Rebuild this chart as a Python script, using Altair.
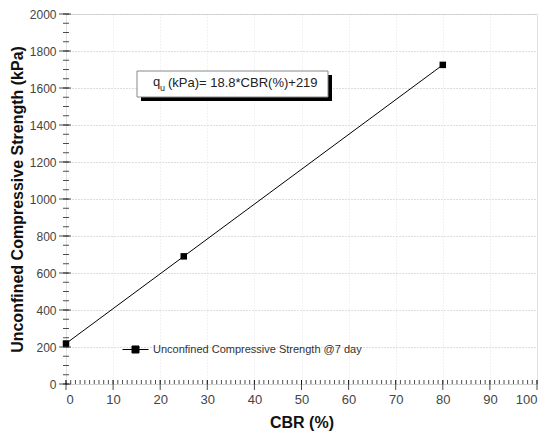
import altair as alt
import pandas as pd

# ---- data ----
cbr = [0, 25, 80]
ucs = [219, 690, 1725]
series_name = "Unconfined Compressive Strength @7 day"
x_major = list(range(0, 101, 10))
y_major = list(range(0, 2001, 200))
x_minor = list(range(0, 101, 1))
y_minor = list(range(0, 2001, 50))
eq_q = "q"
eq_sub = "u"
eq_rest = "(kPa)= 18.8*CBR(%)+219"

W, H = 471, 370
FONT = "Liberation Sans"

df = pd.DataFrame({"x": cbr, "y": ucs, "series": [series_name] * len(cbr)})
df_xminor = pd.DataFrame({"x": x_minor})
df_xmajor = pd.DataFrame({"x": x_major})
df_yminor = pd.DataFrame({"y": y_minor})
df_ymajor = pd.DataFrame({"y": y_major})
one = pd.DataFrame({"a": [0]})

x_enc = alt.X(
    "x:Q",
    scale=alt.Scale(domain=[0, 100], nice=False, zero=False),
    axis=alt.Axis(
        values=x_major, format="d", title="CBR (%)", domain=False, ticks=False,
        grid=True, gridColor="#e4e4e4", gridDash=[1, 2], gridWidth=1,
        labelFontSize=13, labelColor="#444", labelPadding=9, labelFont=FONT,
        titleFont=FONT, titleFontSize=16, titleFontWeight="bold", titleColor="#111",
        titlePadding=8,
    ),
)
y_enc = alt.Y(
    "y:Q",
    scale=alt.Scale(domain=[0, 2000], nice=False, zero=False),
    axis=alt.Axis(
        values=y_major, format="d", title="Unconfined Compressive Strength (kPa)",
        domain=False, ticks=False,
        grid=True, gridColor="#bdbdbd", gridDash=[1, 2], gridWidth=1,
        labelFontSize=12, labelColor="#444", labelPadding=10, labelFont=FONT,
        titleFont=FONT, titleFontSize=16, titleFontWeight="bold", titleColor="#111",
        titlePadding=4,
    ),
)

line = alt.Chart(df).mark_line(color="black", strokeWidth=1).encode(x=x_enc, y=y_enc)

legend_path = "M-1,0H1M-0.27,-0.27H0.27V0.27H-0.27Z"
points = alt.Chart(df).mark_square(size=42, opacity=1, filled=True).encode(
    x=x_enc, y=y_enc,
    color=alt.Color(
        "series:N",
        scale=alt.Scale(domain=[series_name], range=["black"]),
        legend=alt.Legend(
            title=None, orient="none", legendX=56, legendY=322, padding=0,
            symbolType=legend_path, symbolSize=676, symbolFillColor="black",
            symbolStrokeColor="black", symbolStrokeWidth=1, symbolOpacity=1,
            labelFont=FONT, labelFontSize=11, labelColor="#333", labelOffset=4,
            labelLimit=400,
        ),
    ),
)

y_minor_ticks = alt.Chart(df_yminor).mark_tick(
    orient="horizontal", size=6, thickness=1, color="black"
).encode(y=y_enc, x=alt.value(0))
y_major_ticks = alt.Chart(df_ymajor).mark_tick(
    orient="horizontal", size=12, thickness=1, color="black", xOffset=-1
).encode(y=y_enc, x=alt.value(0))
x_minor_ticks = alt.Chart(df_xminor).mark_tick(
    orient="vertical", size=4, thickness=1, color="black", yOffset=-2
).encode(x=x_enc, y=alt.value(H))
x_major_ticks = alt.Chart(df_xmajor).mark_tick(
    orient="vertical", size=10, thickness=1, color="black", yOffset=1
).encode(x=x_enc, y=alt.value(H))

shadow = alt.Chart(one).mark_rect(color="black").encode(
    x=alt.value(75), x2=alt.value(266), y=alt.value(61), y2=alt.value(87)
)
box = alt.Chart(one).mark_rect(fill="white", stroke="#888", strokeWidth=1).encode(
    x=alt.value(71), x2=alt.value(262), y=alt.value(57), y2=alt.value(83)
)
t_q = alt.Chart(one).mark_text(
    text=eq_q, font=FONT, fontSize=13, color="#222", align="left", baseline="middle"
).encode(x=alt.value(87), y=alt.value(68))
t_u = alt.Chart(one).mark_text(
    text=eq_sub, font=FONT, fontSize=9, color="#222", align="left", baseline="middle"
).encode(x=alt.value(94), y=alt.value(74))
t_rest = alt.Chart(one).mark_text(
    text=eq_rest, font=FONT, fontSize=13, color="#222", align="left", baseline="middle"
).encode(x=alt.value(102), y=alt.value(69))

chart = alt.layer(
    line, y_minor_ticks, y_major_ticks, x_minor_ticks, x_major_ticks,
    points, shadow, box, t_q, t_u, t_rest,
).properties(
    width=W, height=H,
    autosize=alt.AutoSizeParams(type="none"),
    padding={"left": 58, "top": 6, "right": 3, "bottom": 52},
).configure_view(stroke="black", strokeWidth=1.2).configure(background="white")

chart.save("out.html", embed_options={"renderer": "svg", "actions": False})
